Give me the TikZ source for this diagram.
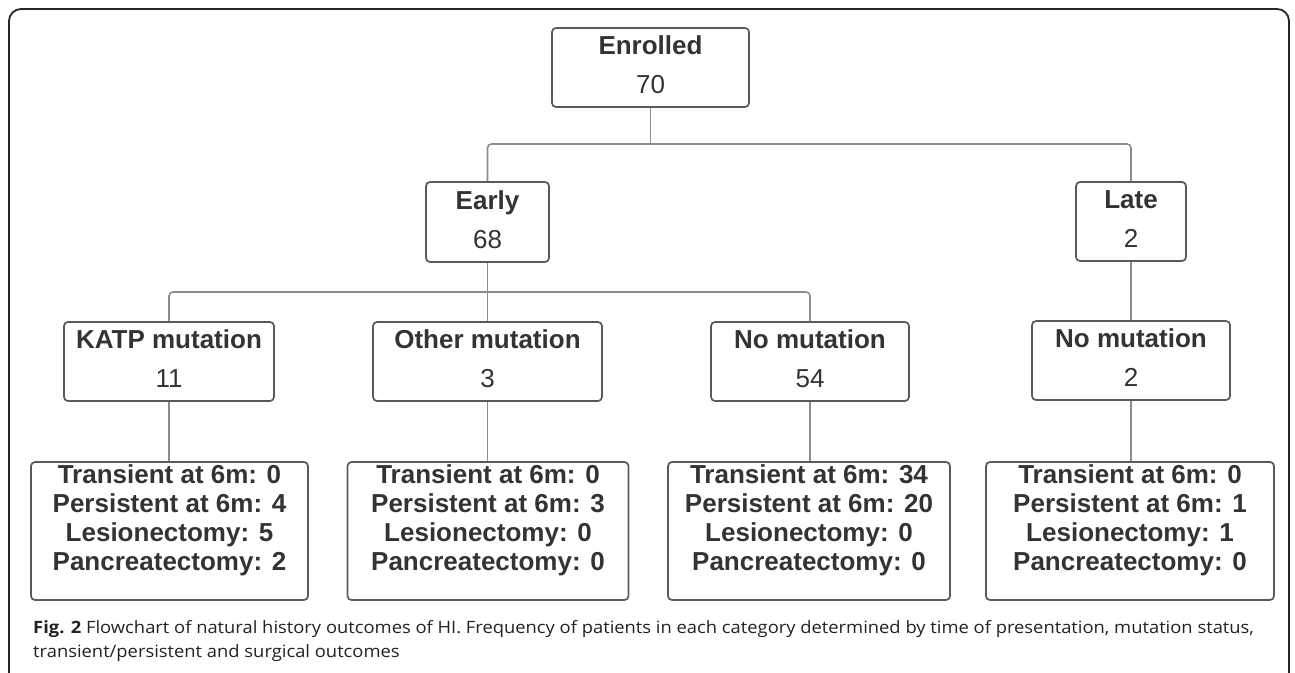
\documentclass[tikz,border=0pt]{standalone}
\usepackage{fontspec}
\setmainfont{Liberation Sans}
\newfontfamily\capfont{Open Sans}
\usetikzlibrary{calc}
\definecolor{txt}{HTML}{333333}
\definecolor{bord}{HTML}{5A5A5A}
\definecolor{conn}{HTML}{8C8C8C}
\definecolor{captxt}{HTML}{222222}
\begin{document}
\begin{tikzpicture}[x=1pt,y=-1pt,
 box/.style={draw=bord, line width=1.7pt, rounded corners=4pt, inner sep=0pt},
 lvl/.style={font=\fontsize{26}{40}\selectfont, text=txt, align=center},
 outtext/.style={font=\fontsize{26}{29.2}\selectfont\bfseries, text=txt, align=center, anchor=north, inner sep=0pt},
 link/.style={draw=conn, line width=1.6pt, rounded corners=4pt},
 captext/.style={anchor=base west, inner sep=0pt, font=\capfont\fontsize{17}{24}\selectfont, text=captxt}]
\useasboundingbox (0,0) rectangle (1295,672);
\begin{scope}
\clip (0,0) rectangle (1295,672);
\draw[line width=1.8pt, rounded corners=12pt, draw=black!85] (9,9) rectangle (1289,700);
\end{scope}

% level 1
\node[box, lvl, minimum width=197pt, minimum height=79pt] (enr) at (650.5,67.5) {\textbf{Enrolled}\\[-1pt]70\vphantom{g}};
% level 2
\node[box, lvl, minimum width=123pt, minimum height=80pt] (early) at (487.5,222) {\textbf{Early}\\[-1pt]68\vphantom{g}};
\node[box, lvl, minimum width=110pt, minimum height=79pt] (late) at (1131,221.5) {\textbf{Late}\\[-1pt]2\vphantom{g}};
% level 3
\node[box, lvl, minimum width=210pt, minimum height=79pt] (katp) at (169,361.5) {\textbf{KATP mutation}\\[-1pt]11\vphantom{g}};
\node[box, lvl, minimum width=229pt, minimum height=79pt] (other) at (487.5,361.5) {\textbf{Other mutation}\\[-1pt]3\vphantom{g}};
\node[box, lvl, minimum width=198pt, minimum height=79pt] (nom) at (810,361.5) {\textbf{No mutation}\\[-1pt]54\vphantom{g}};
\node[box, lvl, minimum width=198pt, minimum height=79pt] (nomb) at (1131,360.5) {\textbf{No mutation}\\[-1pt]2\vphantom{g}};
% outcomes
\node[box, minimum width=277pt, minimum height=138pt] (o1) at (169.5,531) {};
\node[box, minimum width=281pt, minimum height=138pt] (o2) at (488,531) {};
\node[box, minimum width=282pt, minimum height=138pt] (o3) at (809,531) {};
\node[box, minimum width=288pt, minimum height=138pt] (o4) at (1130,531) {};
\node[outtext] (t1) at ($(o1.north)+(0,3)$) {Transient at 6m: 0\\Persistent at 6m: 4\\Lesionectomy: 5\\Pancreatectomy: 2};
\node[outtext] (t2) at ($(o2.north)+(0,3)$) {Transient at 6m: 0\\Persistent at 6m: 3\\Lesionectomy: 0\\Pancreatectomy: 0};
\node[outtext] (t3) at ($(o3.north)+(0,3)$) {Transient at 6m: 34\\Persistent at 6m: 20\\Lesionectomy: 0\\Pancreatectomy: 0};
\node[outtext] (t4) at ($(o4.north)+(0,3)$) {Transient at 6m: 0\\Persistent at 6m: 1\\Lesionectomy: 1\\Pancreatectomy: 0};

% connectors
\coordinate (j0) at (650.5,144);
\coordinate (j1) at (487.5,292);
\draw[link] (enr.south) -- (j0);
\draw[link] (j0) -| (early.north);
\draw[link] (j0) -| (late.north);
\draw[link] (early.south) -- (other.north);
\draw[link] (j1) -| (katp.north);
\draw[link] (j1) -| (nom.north);
\draw[link] (late.south) -- (nomb.north);
\draw[link] (katp.south) -- (katp.south |- o1.north);
\draw[link] (other.south) -- (other.south |- o2.north);
\draw[link] (nom.south) -- (nom.south |- o3.north);
\draw[link] (nomb.south) -- (nomb.south |- o4.north);

% caption
\node[captext] (cap1) at (33,633) {\scalebox{1.08}[1]{\textbf{Fig. 2} Flowchart of natural history outcomes of HI. Frequency of patients in each category determined by time of presentation, mutation status,}};
\node[captext] (cap2) at (33,657) {\scalebox{1.08}[1]{transient/persistent and surgical outcomes}};
\end{tikzpicture}
\end{document}
